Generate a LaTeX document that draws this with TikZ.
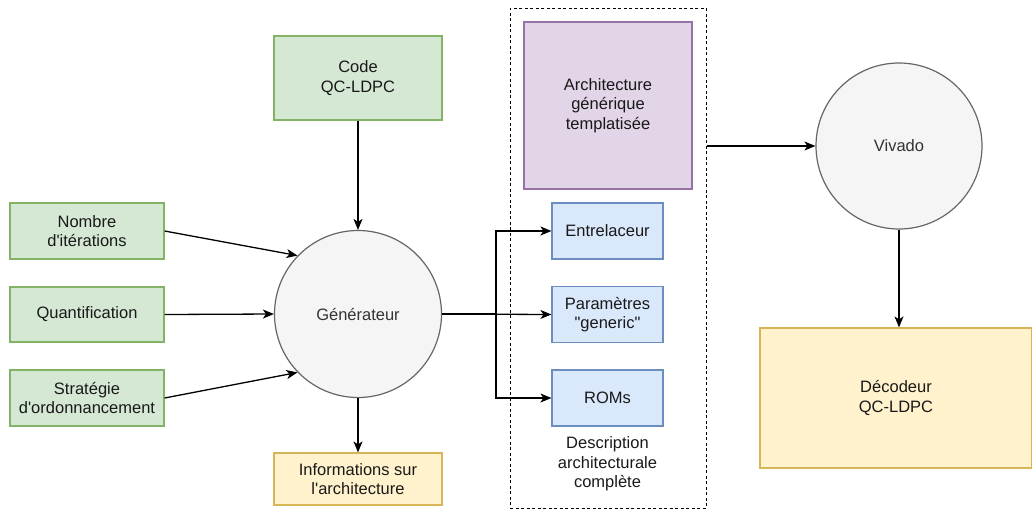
\documentclass[tikz,border=0pt]{standalone}
\usepackage{fontspec}
\setmainfont{Liberation Sans}[Ligatures=TeXOff]
\usetikzlibrary{arrows.meta}
\definecolor{gfill}{HTML}{D5E8D4}\definecolor{gline}{HTML}{82B366}
\definecolor{pfill}{HTML}{E1D5E7}\definecolor{pline}{HTML}{9673A6}
\definecolor{bfill}{HTML}{DAE8FC}\definecolor{bline}{HTML}{6C8EBF}
\definecolor{yfill}{HTML}{FFF2CC}\definecolor{yline}{HTML}{D6B656}
\definecolor{cfill}{HTML}{F5F5F5}\definecolor{cline}{HTML}{666666}
\definecolor{ctext}{HTML}{333333}
\begin{document}
\begin{tikzpicture}[x=1pt,y=-1pt,
  font=\fontsize{16.5}{19.5}\selectfont,
  box/.style={draw, line width=1.2pt, align=center, inner sep=0pt, text=black!90},
  green/.style={box, fill=gfill, draw=gline},
  purple/.style={box, fill=pfill, draw=pline},
  blue/.style={box, fill=bfill, draw=bline, minimum width=111, minimum height=56},
  yellow/.style={box, fill=yfill, draw=yline},
  round/.style={circle, draw=cline, fill=cfill, line width=1.2pt, text=ctext, inner sep=0pt},
  conn/.style={draw, line width=1.3pt, -{Stealth[length=11pt,width=9pt,inset=3pt]}}
]
\useasboundingbox (0,0) rectangle (1032,509);
% group
\node[draw, dash pattern=on 3pt off 2.5pt, line width=1pt, minimum width=196, minimum height=500, inner sep=0pt] (grp) at (608,258) {};
% inputs
\node[green, minimum width=154, minimum height=56] (nb) at (87,231) {Nombre\\d'itérations};
\node[green, minimum width=154, minimum height=55] (qt) at (87,314.5) {Quantification};
\node[green, minimum width=154, minimum height=56] (st) at (87,398) {Stratégie\\d'ordonnancement};
\node[green, minimum width=168, minimum height=84] (code) at (358,78) {Code\\QC-LDPC};
% generator
\node[round, minimum size=167] (gen) at (358,314) {Générateur};
\node[yellow, minimum width=168, minimum height=52] (info) at (358,479) {Informations sur\\l'architecture};
% architecture
\node[purple, minimum width=168, minimum height=167] (arch) at (608,105.5) {Architecture\\générique\\templatisée};
\node[blue] (ent) at (607.5,231) {Entrelaceur};
\node[blue] (par) at (607.5,314.5) {Paramètres\\"generic"};
\node[blue] (rom) at (607.5,398) {ROMs};
\node[align=center, text=black!90] (desc) at (607.5,464) {Description\\architecturale\\complète};
% vivado
\node[round, minimum size=166] (viv) at (899,146) {Vivado};
\node[yellow, minimum width=272, minimum height=140] (dec) at (896,398) {Décodeur\\QC-LDPC};
% connectors
\draw[conn] (nb.east) -- (gen.136);
\draw[conn] (qt.east) -- (gen.west);
\draw[conn] (st.east) -- (gen.224);
\draw[conn] (code) -- (gen);
\draw[conn] (gen) -- (info);
\draw[conn] (gen.east) -- (par.west);
\draw[conn] (gen.east) -- ++(54,0) |- (ent.west);
\draw[conn] (gen.east) -- ++(54,0) |- (rom.west);
\draw[conn] (grp.east |- viv) -- (viv);
\draw[conn] (viv) -- (viv |- dec.north);
\end{tikzpicture}
\end{document}
